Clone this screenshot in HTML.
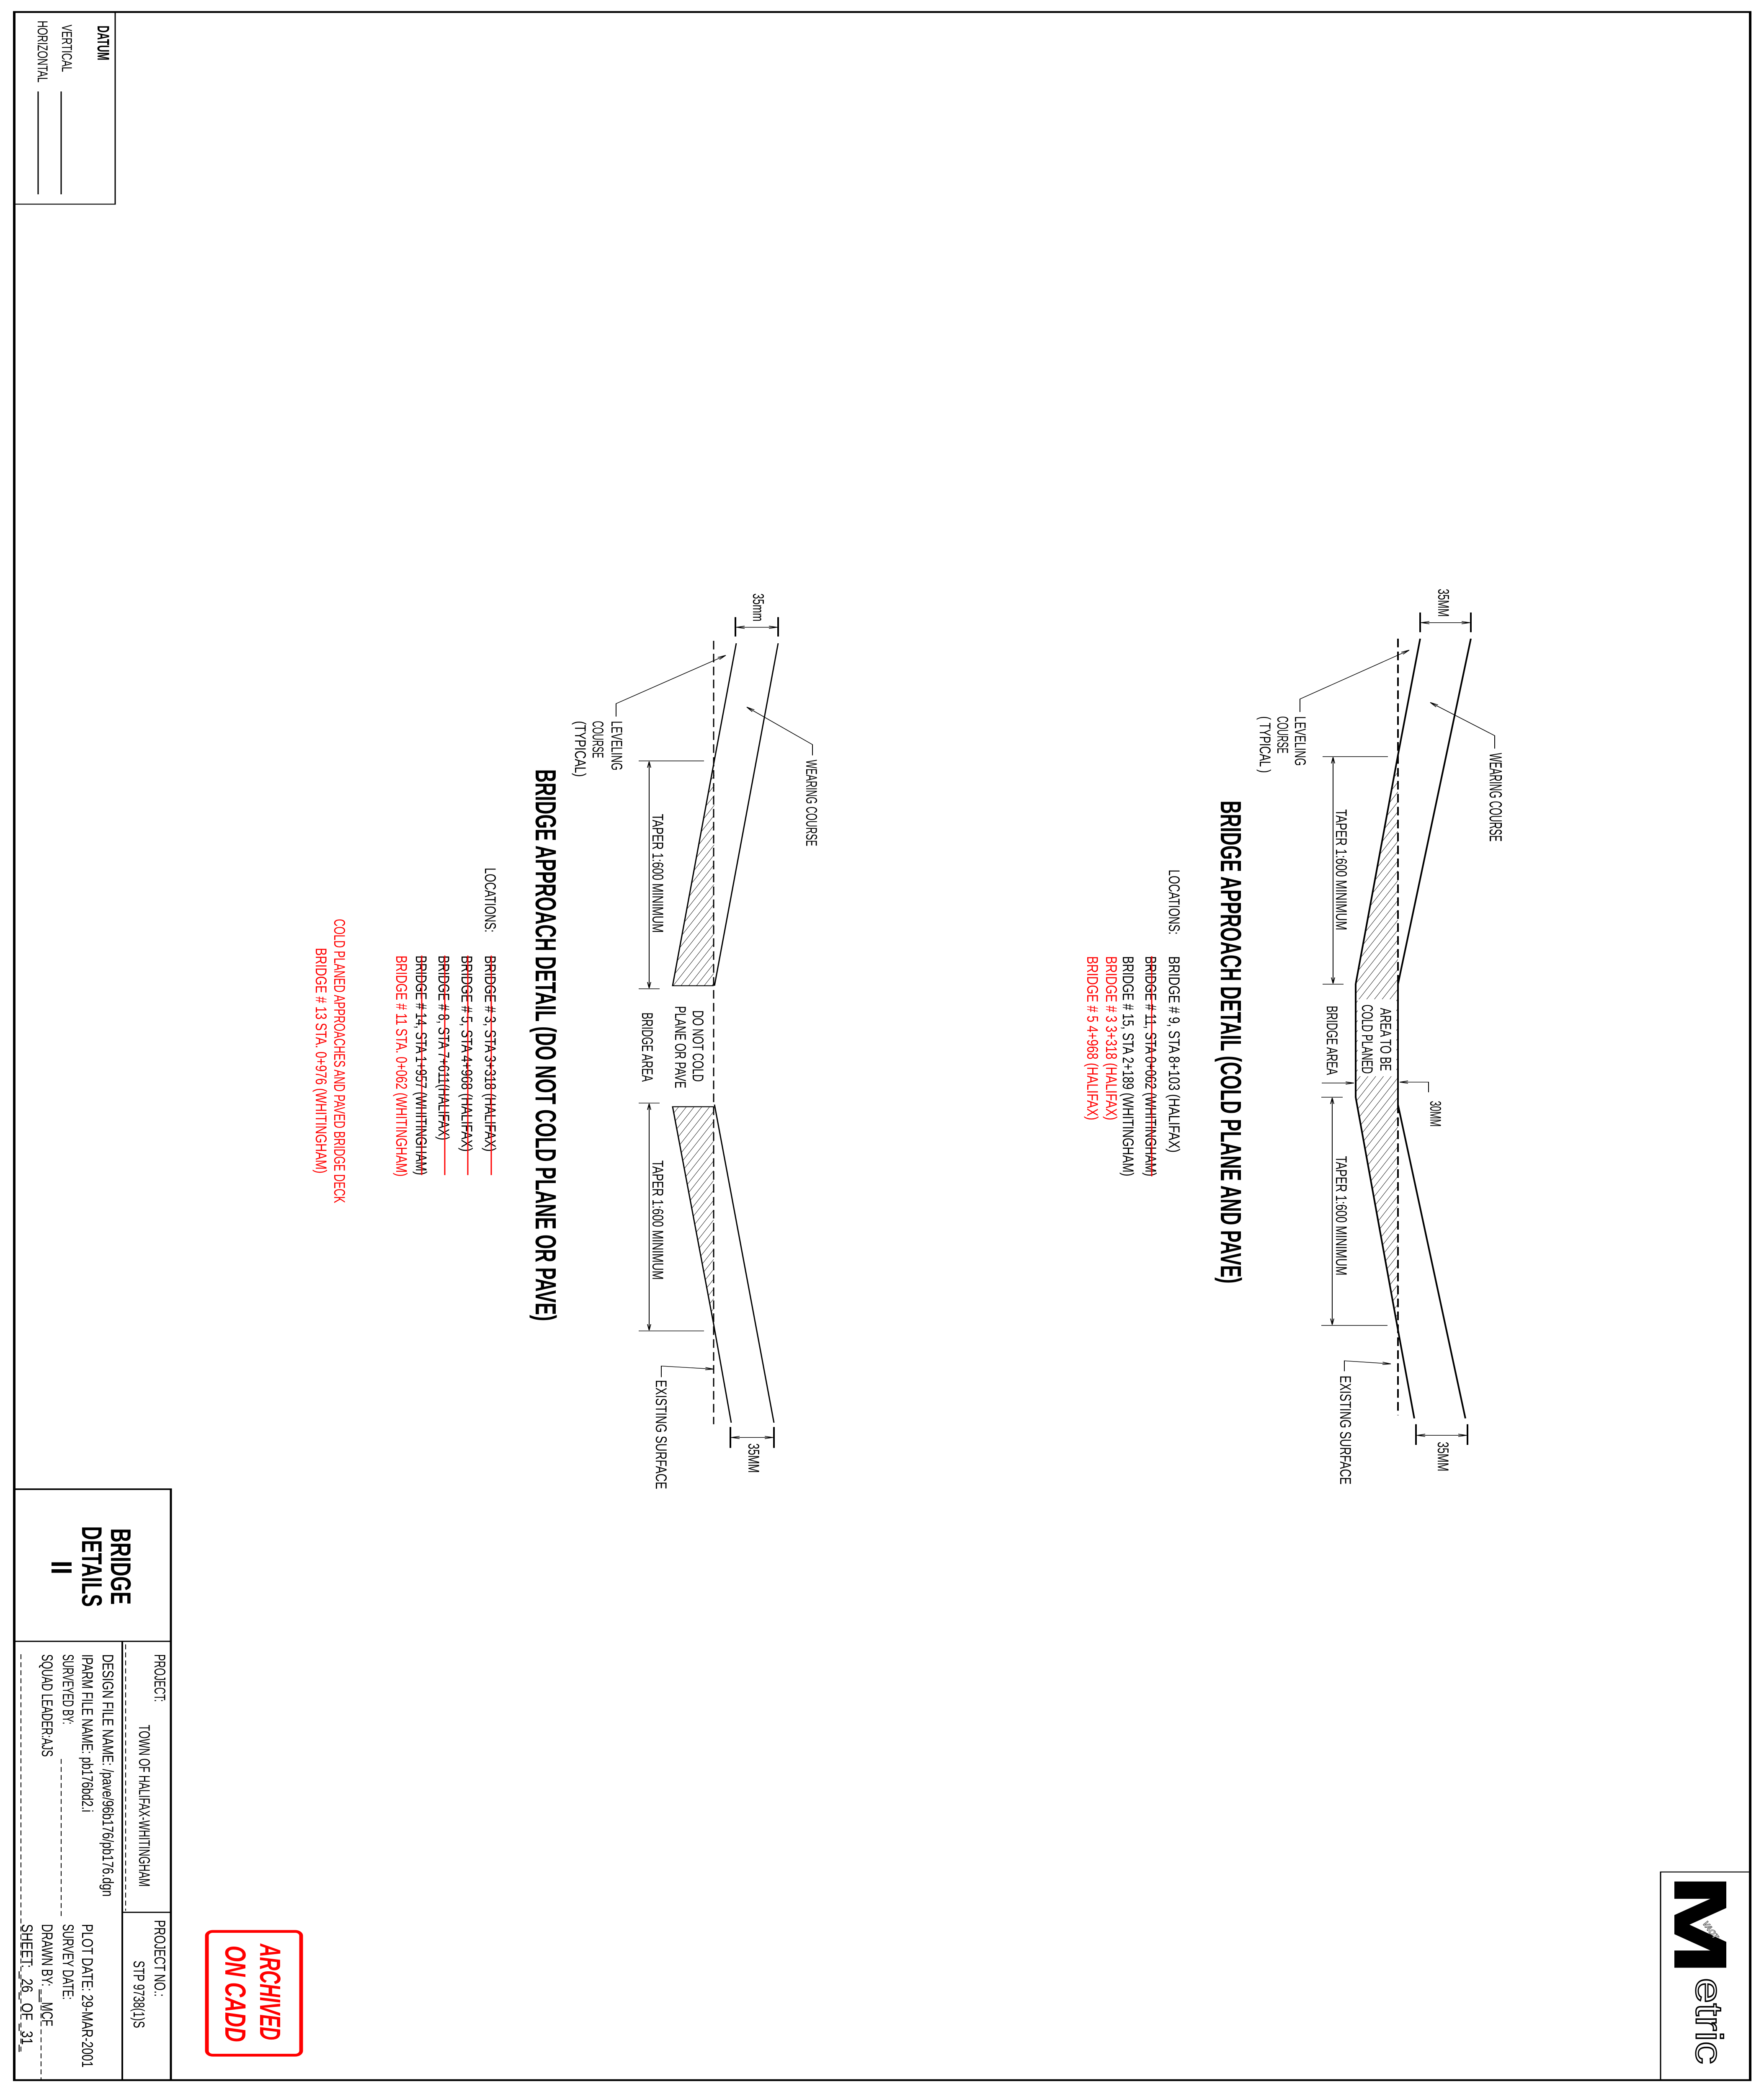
<!DOCTYPE html>
<html><head><meta charset="utf-8"><style>
html,body{margin:0;padding:0;background:#fff;width:100%;height:100%;overflow:hidden;}
svg{display:block;position:absolute;left:0;top:0;width:100vw;height:100vh;}
text{font-family:"Liberation Sans",sans-serif;}
</style></head><body>
<svg xmlns="http://www.w3.org/2000/svg" viewBox="0 0 4212 6800" preserveAspectRatio="none">
<defs>
<marker id="a" viewBox="0 0 20 10" refX="20" refY="5" markerWidth="20" markerHeight="10" markerUnits="userSpaceOnUse" orient="auto-start-reverse">
<path d="M0,1 L20,5 L0,9" fill="none" stroke="#000" stroke-width="2"/>
</marker>
<pattern id="h" width="16" height="16" patternUnits="userSpaceOnUse" patternTransform="rotate(30)">
<line x1="0" y1="0" x2="0" y2="16" stroke="#000" stroke-width="2"/>
</pattern>
</defs>
<rect width="4212" height="6800" fill="#fff"/>
<rect x="34" y="39" width="4145" height="6716" fill="none" stroke="#000" stroke-width="6"/>
<polyline points="34,663 275,663 275,39" fill="none" stroke="#000" stroke-width="3"/>
<text transform="translate(233,83) rotate(90)" font-size="40" font-weight="bold" textLength="113" lengthAdjust="spacingAndGlyphs">DATUM</text>
<text transform="translate(148,80) rotate(90)" font-size="34" textLength="154" lengthAdjust="spacingAndGlyphs">VERTICAL</text>
<text transform="translate(90,67) rotate(90)" font-size="34" textLength="201" lengthAdjust="spacingAndGlyphs">HORIZONTAL</text>
<line x1="146" y1="297" x2="146" y2="631" stroke="#000" stroke-width="3"/>
<line x1="91" y1="297" x2="91" y2="631" stroke="#000" stroke-width="3"/>

<g fill="none" stroke="#000">
<polygon points="3338,2452 3237,3196 3237,3563 3336,4304 3338,4304" fill="url(#h)" stroke="none"/>
<rect x="3242" y="3245" width="92" height="250" fill="#fff" stroke="none"/>
<polyline points="3391,2074 3338,2452 3237,3196 3237,3563 3336,4304 3377,4606" stroke-width="4"/>
<polyline points="3512,2074 3338,3196 3338,3587 3499,4606" stroke-width="4"/>
<line x1="3338" y1="2074" x2="3338" y2="3196" stroke-width="4" stroke-dasharray="28,14"/>
<line x1="3338" y1="3587" x2="3338" y2="4596" stroke-width="4" stroke-dasharray="28,14"/>
<line x1="3391" y1="1989" x2="3391" y2="2053" stroke-width="4"/>
<line x1="3512" y1="1989" x2="3512" y2="2053" stroke-width="4"/>
<line x1="3393" y1="2022" x2="3510" y2="2022" stroke-width="2" marker-start="url(#a)" marker-end="url(#a)"/>
<line x1="3381" y1="4625" x2="3381" y2="4692" stroke-width="4"/>
<line x1="3504" y1="4625" x2="3504" y2="4692" stroke-width="4"/>
<line x1="3383" y1="4661" x2="3502" y2="4661" stroke-width="2" marker-start="url(#a)" marker-end="url(#a)"/>
<line x1="3158" y1="2457" x2="3314" y2="2457" stroke-width="2"/>
<line x1="3158" y1="3196" x2="3208" y2="3196" stroke-width="2"/>
<line x1="3183" y1="2459" x2="3183" y2="3194" stroke-width="2" marker-start="url(#a)" marker-end="url(#a)"/>
<line x1="3155" y1="3563" x2="3206" y2="3563" stroke-width="2"/>
<line x1="3155" y1="4304" x2="3313" y2="4304" stroke-width="2"/>
<line x1="3181" y1="3565" x2="3181" y2="4302" stroke-width="2" marker-start="url(#a)" marker-end="url(#a)"/>
<line x1="3156" y1="3517" x2="3233" y2="3517" stroke-width="2" marker-end="url(#a)"/>
<polyline points="3411,3547 3411,3514 3342,3514" stroke-width="2" marker-end="url(#a)"/>
<polyline points="3104,2312 3104,2270 3365,2111" stroke-width="2" marker-end="url(#a)"/>
<polyline points="3569,2431 3569,2389 3415,2281" stroke-width="2" marker-end="url(#a)"/>
<polyline points="3210,4453 3210,4419 3321,4429" stroke-width="2" marker-end="url(#a)"/>
</g>
<g font-size="37">
<text transform="translate(3434,1912) rotate(90)" textLength="91" lengthAdjust="spacingAndGlyphs">35MM</text>
<text transform="translate(3433,4682) rotate(90)" textLength="96" lengthAdjust="spacingAndGlyphs">35MM</text>
<text transform="translate(3415,3575) rotate(90)" textLength="84" lengthAdjust="spacingAndGlyphs">30MM</text>
<text transform="translate(3557,2445) rotate(90)" font-size="42" textLength="288" lengthAdjust="spacingAndGlyphs">WEARING COURSE</text>
<text transform="translate(3092,2326) rotate(90)" textLength="161" lengthAdjust="spacingAndGlyphs">LEVELING</text>
<text transform="translate(3050,2326) rotate(90)" textLength="121" lengthAdjust="spacingAndGlyphs">COURSE</text>
<text transform="translate(3008,2326) rotate(90)" textLength="184" lengthAdjust="spacingAndGlyphs">( TYPICAL )</text>
<text transform="translate(3190,2628) rotate(90)" textLength="393" lengthAdjust="spacingAndGlyphs">TAPER 1:600 MINIMUM</text>
<text transform="translate(3190,3754) rotate(90)" textLength="388" lengthAdjust="spacingAndGlyphs">TAPER 1:600 MINIMUM</text>
<text transform="translate(3168,3266) rotate(90)" textLength="225" lengthAdjust="spacingAndGlyphs">BRIDGE AREA</text>
<text transform="translate(3296,3273) rotate(90)" textLength="205" lengthAdjust="spacingAndGlyphs">AREA TO BE</text>
<text transform="translate(3252,3262) rotate(90)" textLength="225" lengthAdjust="spacingAndGlyphs">COLD PLANED</text>
<text transform="translate(3200,4467) rotate(90)" textLength="354" lengthAdjust="spacingAndGlyphs">EXISTING SURFACE</text>
<text transform="translate(2915,2600) rotate(90)" font-size="70" font-weight="bold" textLength="1568" lengthAdjust="spacingAndGlyphs">BRIDGE APPROACH DETAIL (COLD PLANE AND PAVE)</text>
<text transform="translate(2791,2824) rotate(90)" textLength="211" lengthAdjust="spacingAndGlyphs">LOCATIONS:</text>
<text transform="translate(2791,3105) rotate(90)" textLength="638" lengthAdjust="spacingAndGlyphs">BRIDGE # 9, STA 8+103 (HALIFAX)</text>
<text transform="translate(2735,3105) rotate(90)" textLength="715" lengthAdjust="spacingAndGlyphs">BRIDGE # 11, STA 0+062 (WHITINGHAM)</text>
<text transform="translate(2681,3105) rotate(90)" textLength="715" lengthAdjust="spacingAndGlyphs">BRIDGE # 15, STA 2+189 (WHITINGHAM)</text>
<text transform="translate(2641,3105) rotate(90)" fill="#f00" textLength="533" lengthAdjust="spacingAndGlyphs">BRIDGE # 3 3+318 (HALIFAX)</text>
<text transform="translate(2596,3105) rotate(90)" fill="#f00" textLength="533" lengthAdjust="spacingAndGlyphs">BRIDGE # 5 4+968 (HALIFAX)</text>
</g>
<line x1="2750" y1="3105" x2="2750" y2="3820" stroke="#f00" stroke-width="3"/>

<g fill="none" stroke="#000">
<polygon points="1706,2467 1606,3201 1704,3201" fill="url(#h)" stroke="none"/>
<polygon points="1606,3594 1704,3594 1704,4300" fill="url(#h)" stroke="none"/>
<polyline points="1758,2089 1706,2467 1606,3201 1704,3201" stroke-width="3"/>
<line x1="1858" y1="2089" x2="1706" y2="3201" stroke-width="3"/>
<polyline points="1704,3594 1606,3594 1704,4300 1746,4620" stroke-width="3"/>
<line x1="1706" y1="3587" x2="1848" y2="4620" stroke-width="3"/>
<line x1="1704" y1="2081" x2="1704" y2="4625" stroke-width="3" stroke-dasharray="28,14"/>
<line x1="1756" y1="2004" x2="1756" y2="2067" stroke-width="4"/>
<line x1="1858" y1="2004" x2="1858" y2="2067" stroke-width="4"/>
<line x1="1758" y1="2037" x2="1856" y2="2037" stroke-width="2" marker-start="url(#a)" marker-end="url(#a)"/>
<line x1="1744" y1="4634" x2="1744" y2="4702" stroke-width="4"/>
<line x1="1848" y1="4634" x2="1848" y2="4702" stroke-width="4"/>
<line x1="1746" y1="4668" x2="1846" y2="4668" stroke-width="2" marker-start="url(#a)" marker-end="url(#a)"/>
<line x1="1525" y1="2471" x2="1681" y2="2471" stroke-width="2"/>
<line x1="1525" y1="3211" x2="1575" y2="3211" stroke-width="2"/>
<line x1="1550" y1="2473" x2="1550" y2="3209" stroke-width="2" marker-start="url(#a)" marker-end="url(#a)"/>
<line x1="1525" y1="3582" x2="1575" y2="3582" stroke-width="2"/>
<line x1="1525" y1="4322" x2="1681" y2="4322" stroke-width="2"/>
<line x1="1550" y1="3584" x2="1550" y2="4320" stroke-width="2" marker-start="url(#a)" marker-end="url(#a)"/>
<polyline points="1471,2327 1471,2285 1733,2128" stroke-width="2" marker-end="url(#a)"/>
<polyline points="1940,2453 1940,2418 1783,2296" stroke-width="2" marker-end="url(#a)"/>
<polyline points="1579,4472 1579,4436 1704,4446" stroke-width="2" marker-end="url(#a)"/>
</g>
<g font-size="37">
<text transform="translate(1798,1927) rotate(90)" textLength="91" lengthAdjust="spacingAndGlyphs">35mm</text>
<text transform="translate(1787,4687) rotate(90)" textLength="96" lengthAdjust="spacingAndGlyphs">35MM</text>
<text transform="translate(1925,2467) rotate(90)" textLength="281" lengthAdjust="spacingAndGlyphs">WEARING COURSE</text>
<text transform="translate(1460,2341) rotate(90)" textLength="161" lengthAdjust="spacingAndGlyphs">LEVELING</text>
<text transform="translate(1415,2341) rotate(90)" textLength="121" lengthAdjust="spacingAndGlyphs">COURSE</text>
<text transform="translate(1373,2341) rotate(90)" textLength="182" lengthAdjust="spacingAndGlyphs">(TYPICAL)</text>
<text transform="translate(1558,2643) rotate(90)" textLength="386" lengthAdjust="spacingAndGlyphs">TAPER 1:600 MINIMUM</text>
<text transform="translate(1558,3768) rotate(90)" textLength="388" lengthAdjust="spacingAndGlyphs">TAPER 1:600 MINIMUM</text>
<text transform="translate(1654,3281) rotate(90)" textLength="232" lengthAdjust="spacingAndGlyphs">DO NOT COLD</text>
<text transform="translate(1612,3267) rotate(90)" textLength="267" lengthAdjust="spacingAndGlyphs">PLANE OR PAVE</text>
<text transform="translate(1533,3288) rotate(90)" textLength="225" lengthAdjust="spacingAndGlyphs">BRIDGE AREA</text>
<text transform="translate(1566,4481) rotate(90)" textLength="355" lengthAdjust="spacingAndGlyphs">EXISTING SURFACE</text>
<text transform="translate(1279,2498) rotate(90)" font-size="70" font-weight="bold" textLength="1792" lengthAdjust="spacingAndGlyphs">BRIDGE APPROACH DETAIL (DO NOT COLD PLANE OR PAVE)</text>
<text transform="translate(1158,2818) rotate(90)" textLength="210" lengthAdjust="spacingAndGlyphs">LOCATIONS:</text>
<text transform="translate(1158,3103) rotate(90)" textLength="637" lengthAdjust="spacingAndGlyphs">BRIDGE # 3, STA 3+318 (HALIFAX)</text>
<text transform="translate(1102,3103) rotate(90)" textLength="637" lengthAdjust="spacingAndGlyphs">BRIDGE # 5, STA 4+968 (HALIFAX)</text>
<text transform="translate(1047,3103) rotate(90)" textLength="600" lengthAdjust="spacingAndGlyphs">BRIDGE # 8, STA 7+611(HALIFAX)</text>
<text transform="translate(993,3103) rotate(90)" textLength="713" lengthAdjust="spacingAndGlyphs">BRIDGE # 14, STA 1+957 (WHITINGHAM)</text>
<text transform="translate(946,3103) rotate(90)" fill="#f00" textLength="718" lengthAdjust="spacingAndGlyphs">BRIDGE # 11 STA. 0+062 (WHITINGHAM)</text>
<text transform="translate(798,2984) rotate(90)" fill="#f00" textLength="923" lengthAdjust="spacingAndGlyphs">COLD PLANED APPROACHES AND PAVED BRIDGE DECK</text>
<text transform="translate(754,3078) rotate(90)" fill="#f00" textLength="733" lengthAdjust="spacingAndGlyphs">BRIDGE # 13 STA. 0+976 (WHITINGHAM)</text>
</g>
<g stroke="#f00" stroke-width="3">
<line x1="1173" y1="3103" x2="1173" y2="3816"/>
<line x1="1117" y1="3103" x2="1117" y2="3816"/>
<line x1="1062" y1="3103" x2="1062" y2="3816"/>
<line x1="1007" y1="3103" x2="1007" y2="3816"/>
</g>

<g fill="none" stroke="#000">
<polyline points="34,4836 408,4836 408,6755" stroke-width="5"/>
<line x1="34" y1="5330" x2="408" y2="5330" stroke-width="4"/>
<line x1="292" y1="5330" x2="292" y2="6755" stroke-width="4"/>
<line x1="292" y1="6210" x2="408" y2="6210" stroke-width="4"/>
<line x1="300" y1="5340" x2="300" y2="6205" stroke-width="2" stroke-dasharray="16,10"/>
<line x1="146" y1="5712" x2="146" y2="6229" stroke-width="2" stroke-dasharray="16,10"/>
<line x1="50" y1="5372" x2="50" y2="6663" stroke-width="2" stroke-dasharray="16,10"/>
<line x1="98" y1="6460" x2="98" y2="6752" stroke-width="2" stroke-dasharray="16,10"/>
</g>
<text transform="translate(265,4963) rotate(90)" font-size="68" font-weight="bold" textLength="248" lengthAdjust="spacingAndGlyphs">BRIDGE</text>
<text transform="translate(196,4956) rotate(90)" font-size="68" font-weight="bold" textLength="262" lengthAdjust="spacingAndGlyphs">DETAILS</text>
<text transform="translate(123,5068) rotate(90)" font-size="70" font-weight="bold" textLength="45" lengthAdjust="spacingAndGlyphs">II</text>
<g font-size="37">
<text transform="translate(369,5372) rotate(90)" textLength="155" lengthAdjust="spacingAndGlyphs">PROJECT:</text>
<text transform="translate(332,5601) rotate(90)" textLength="526" lengthAdjust="spacingAndGlyphs">TOWN OF HALIFAX-WHITINGHAM</text>
<text transform="translate(245,5372) rotate(90)" textLength="787" lengthAdjust="spacingAndGlyphs">DESIGN FILE NAME: /pave/96b176/pb176.dgn</text>
<text transform="translate(196,5372) rotate(90)" textLength="513" lengthAdjust="spacingAndGlyphs">IPARM FILE NAME: pb176bd2.i</text>
<text transform="translate(150,5372) rotate(90)" textLength="228" lengthAdjust="spacingAndGlyphs">SURVEYED BY:</text>
<text transform="translate(100,5372) rotate(90)" textLength="333" lengthAdjust="spacingAndGlyphs">SQUAD LEADER:AJS</text>
<text transform="translate(369,6235) rotate(90)" textLength="249" lengthAdjust="spacingAndGlyphs">PROJECT NO.:</text>
<text transform="translate(319,6367) rotate(90)" textLength="219" lengthAdjust="spacingAndGlyphs">STP 9738(1)S</text>
<text transform="translate(196,6248) rotate(90)" textLength="466" lengthAdjust="spacingAndGlyphs">PLOT DATE: 29-MAR-2001</text>
<text transform="translate(150,6248) rotate(90)" textLength="246" lengthAdjust="spacingAndGlyphs">SURVEY DATE:</text>
<text transform="translate(100,6248) rotate(90)" textLength="332" lengthAdjust="spacingAndGlyphs">DRAWN BY: __MCF</text>
<text transform="translate(52,6248) rotate(90)" textLength="415" lengthAdjust="spacingAndGlyphs">SHEET: _26_ OF _31_</text>
</g>
<rect x="494" y="6272" width="225" height="402" rx="14" fill="none" stroke="#f00" stroke-width="9"/>
<text transform="translate(621,6312) rotate(90)" font-size="70" font-weight="bold" font-style="italic" fill="#f00" textLength="313" lengthAdjust="spacingAndGlyphs">ARCHIVED</text>
<text transform="translate(538,6318) rotate(90)" font-size="70" font-weight="bold" font-style="italic" fill="#f00" textLength="313" lengthAdjust="spacingAndGlyphs">ON CADD</text>

<polyline points="3965,6755 3965,6079 4179,6079" fill="none" stroke="#000" stroke-width="3"/>
<polygon points="3998,6110 4122,6110 4122,6196 4034,6250 4122,6306 4122,6390 3998,6390 3998,6334 4084,6334 3998,6281 3998,6219 4084,6166 3998,6166" fill="#000"/>
<text transform="translate(4064,6245) rotate(62)" font-size="22" font-weight="bold" fill="#fff" stroke="#000" stroke-width="1">VAOT</text>
<text transform="translate(4050,6423) rotate(90)" font-size="90" fill="#fff" stroke="#000" stroke-width="3" textLength="280" lengthAdjust="spacingAndGlyphs">etric</text>
</svg>
</body></html>
